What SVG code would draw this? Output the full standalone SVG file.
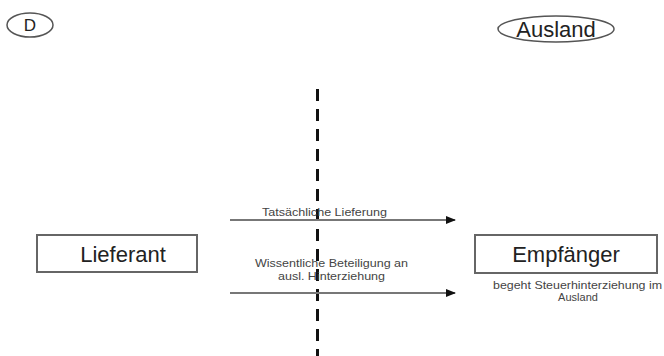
<svg xmlns="http://www.w3.org/2000/svg" width="664" height="356" viewBox="0 0 664 356">
<style>
.t{font-family:"Liberation Sans",Arial,sans-serif;fill:#222}
.s{font-family:"Liberation Sans",Arial,sans-serif;fill:#444;font-size:11px}
.box{fill:#fff;stroke:#666;stroke-width:2}
.arr{stroke:#777;stroke-width:2;fill:none;marker-end:url(#ah)}
</style>
<defs>
<marker id="ah" markerWidth="10" markerHeight="8" refX="9" refY="4" orient="auto" markerUnits="userSpaceOnUse">
<path d="M0,0 L10,4 L0,8 Z" fill="#111"/>
</marker>
</defs>
<rect width="664" height="356" fill="#fff"/>
<g id="land-d">
<ellipse cx="30" cy="25" rx="23" ry="12" fill="none" stroke="#555" stroke-width="1.5"/>
<text class="t" x="30" y="31" font-size="17" text-anchor="middle">D</text>
</g>
<g id="land-ausland">
<ellipse cx="556" cy="29" rx="58" ry="13" fill="none" stroke="#555" stroke-width="1.5"/>
<text class="t" x="556" y="37" font-size="22" text-anchor="middle">Ausland</text>
</g>
<g id="lieferant">
<rect class="box" x="37" y="235" width="160" height="37"/>
<text class="t" x="123" y="262" font-size="22" text-anchor="middle">Lieferant</text>
</g>
<g id="empfaenger">
<rect class="box" x="475" y="235" width="182" height="38"/>
<text class="t" x="566" y="262" font-size="22" text-anchor="middle">Empfänger</text>
<text class="s" x="493" y="289" textLength="169" lengthAdjust="spacingAndGlyphs">begeht Steuerhinterziehung im</text>
<text class="s" x="578" y="301" text-anchor="middle">Ausland</text>
</g>
<g id="connectors">
<line x1="317.5" y1="89" x2="317.5" y2="356" stroke="#111" stroke-width="3" stroke-dasharray="12 8"/>
<line class="arr" x1="230" y1="220" x2="455" y2="220"/>
<text class="s" x="262" y="216" textLength="125" lengthAdjust="spacingAndGlyphs">Tatsächliche Lieferung</text>
<line class="arr" x1="230" y1="293" x2="455" y2="293"/>
<text class="s" x="255" y="267" textLength="153" lengthAdjust="spacingAndGlyphs">Wissentliche Beteiligung an</text>
<text class="s" x="278" y="280" textLength="107" lengthAdjust="spacingAndGlyphs">ausl. Hinterziehung</text>
</g>
</svg>
